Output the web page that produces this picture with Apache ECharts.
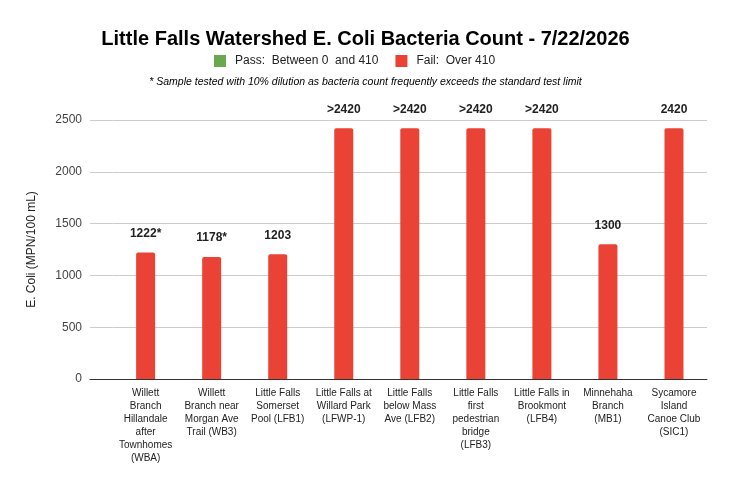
<!DOCTYPE html>
<html>
<head>
<meta charset="utf-8">
<script src="https://cdn.jsdelivr.net/npm/echarts@6/dist/echarts.min.js"></script>
<style>
  html, body { margin: 0; padding: 0; background: #fff; }
  #chart { width: 731px; height: 487px; }
</style>
</head>
<body>
<div id="chart"></div>
<script>
// site names, wrapped like the original
const sites = [
  'Willett\nBranch\nHillandale\nafter\nTownhomes\n(WBA)',
  'Willett\nBranch near\nMorgan Ave\nTrail (WB3)',
  'Little Falls\nSomerset\nPool (LFB1)',
  'Little Falls at\nWillard Park\n(LFWP-1)',
  'Little Falls\nbelow Mass\nAve (LFB2)',
  'Little Falls\nfirst\npedestrian\nbridge\n(LFB3)',
  'Little Falls in\nBrookmont\n(LFB4)',
  'Minnehaha\nBranch\n(MB1)',
  'Sycamore\nIsland\nCanoe Club\n(SIC1)'
];
const failCounts = [1222, 1178, 1203, 2420, 2420, 2420, 2420, 1300, 2420];
const countLabels = ['1222*', '1178*', '1203', '>2420', '>2420', '>2420', '>2420', '1300', '2420'];
const passCounts = [];
const yTicks = [0, 500, 1000, 1500, 2000, 2500];

const chart = echarts.init(document.getElementById('chart'));

const font = 'Arial, "Liberation Sans", sans-serif';

const option = {
  animation: false,
  textStyle: { fontFamily: font },
  title: [
    {
      text: 'Little Falls Watershed E. Coli Bacteria Count - 7/22/2026',
      left: 'center', top: 24,
      textStyle: { fontFamily: font, fontSize: 20, fontWeight: 'bold', color: '#000' }
    },
    {
      text: '* Sample tested with 10% dilution as bacteria count frequently exceeds the standard test limit',
      left: 'center', top: 72,
      textStyle: { fontFamily: font, fontSize: 10.5, fontStyle: 'italic', fontWeight: 'normal', color: '#000' }
    }
  ],
  legend: {
    top: 50, left: 209,
    itemWidth: 12, itemHeight: 12, itemGap: 17,
    icon: 'rect',
    textStyle: { fontFamily: font, fontSize: 12, color: '#222', padding: [0, 0, 0, 4] },
    data: ['Pass:  Between 0  and 410', 'Fail:  Over 410']
  },
  // strip grid only carries the left bit of gridlines and the y labels
  grid: [
    { left: 112.6, right: 24, top: 120, bottom: 108 },
    { left: 90, width: 22.6, top: 120, bottom: 108 }
  ],
  xAxis: [
    {
      type: 'category', gridIndex: 0, data: sites,
      axisLine: { lineStyle: { color: '#333', width: 1 } },
      axisTick: { show: false },
      axisLabel: { interval: 0, fontSize: 10, lineHeight: 13, color: '#222', margin: 8 }
    },
    {
      type: 'category', gridIndex: 1, data: [''],
      axisLine: { lineStyle: { color: '#333', width: 1 } },
      axisTick: { show: false },
      axisLabel: { show: false }
    }
  ],
  yAxis: [
    {
      type: 'value', gridIndex: 0, min: yTicks[0], max: yTicks[yTicks.length - 1], interval: 500,
      axisLine: { show: false }, axisTick: { show: false },
      axisLabel: { show: false },
      splitLine: { lineStyle: { color: '#ccc' } }
    },
    {
      type: 'value', gridIndex: 1, min: yTicks[0], max: yTicks[yTicks.length - 1], interval: 500,
      name: 'E. Coli (MPN/100 mL)', nameLocation: 'middle', nameGap: 52,
      nameTextStyle: { fontSize: 12, color: '#222' },
      axisLine: { show: false }, axisTick: { show: false },
      axisLabel: { fontSize: 12, color: '#444', margin: 8, formatter: v => String(v) },
      splitLine: { lineStyle: { color: '#ccc' } }
    }
  ],
  series: [
    {
      name: 'Pass:  Between 0  and 410',
      type: 'bar', xAxisIndex: 1, yAxisIndex: 1,
      itemStyle: { color: '#6aa84f' },
      data: passCounts
    },
    {
      name: 'Fail:  Over 410',
      type: 'bar', xAxisIndex: 0, yAxisIndex: 0,
      barWidth: 19,
      itemStyle: { color: '#ea4335', borderRadius: [2, 2, 0, 0] },
      label: {
        show: true, position: 'top', distance: 13,
        fontSize: 12, fontWeight: 'bold', color: '#222',
        formatter: p => countLabels[p.dataIndex]
      },
      data: failCounts
    }
  ]
};

chart.setOption(option);
</script>
</body>
</html>
